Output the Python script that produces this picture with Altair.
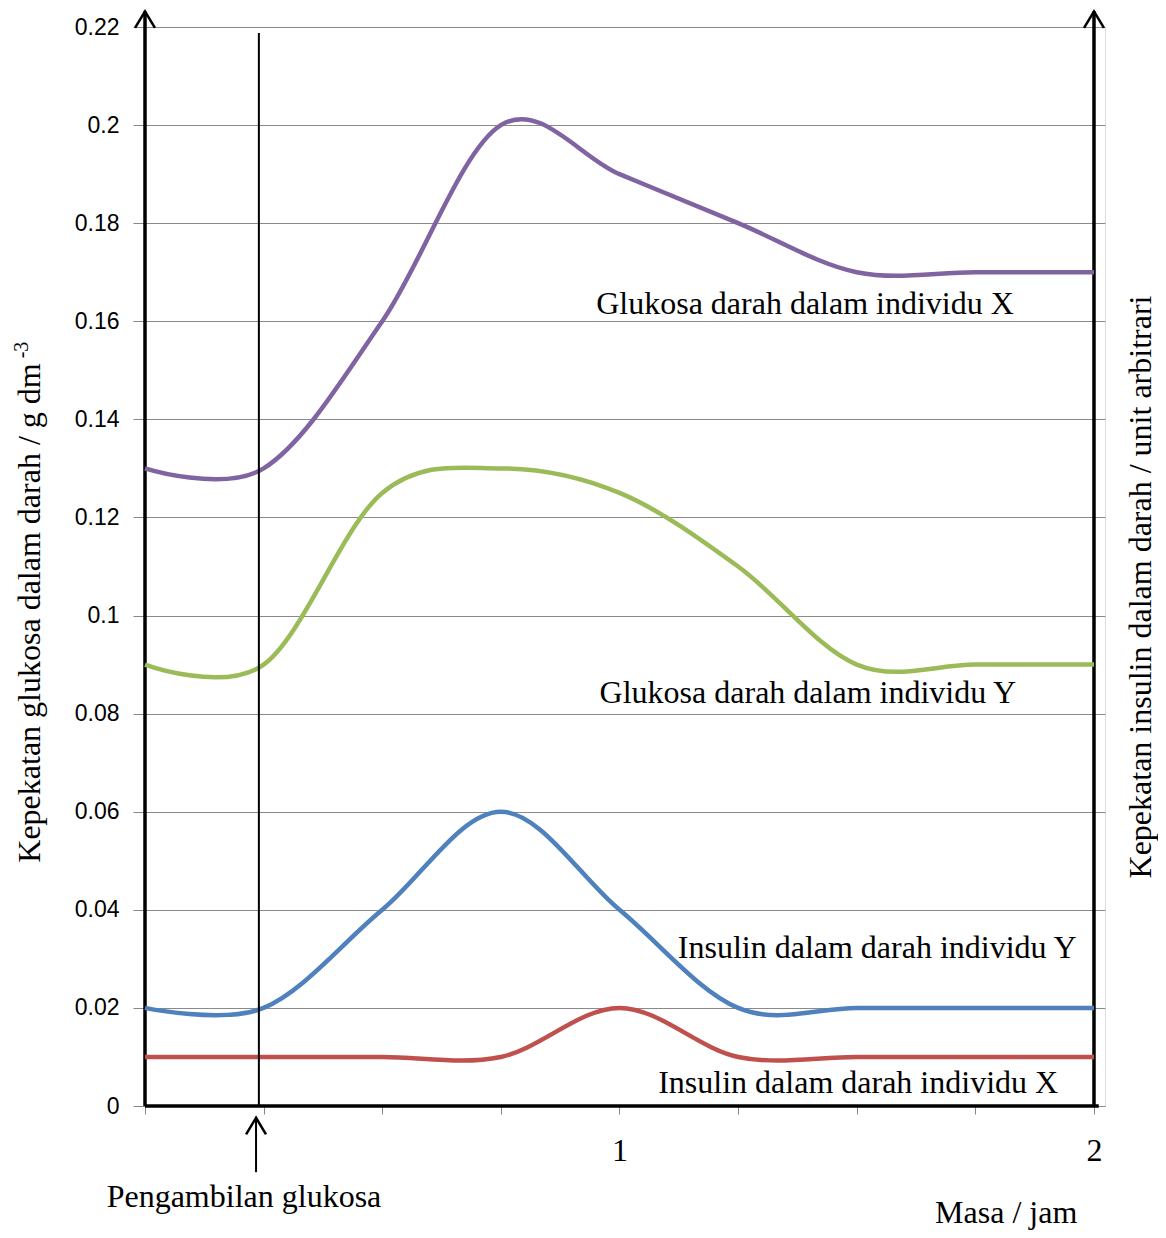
import altair as alt
import pandas as pd

# ---- data ----
times = [0, 0.25, 0.5, 0.75, 1.0, 1.25, 1.5, 1.75, 2.0]
glukosa_x = [0.13, 0.13, 0.16, 0.20, 0.19, 0.18, 0.17, 0.17, 0.17]
glukosa_y = [0.09, 0.09, 0.125, 0.13, 0.125, 0.11, 0.09, 0.09, 0.09]
insulin_y = [0.02, 0.02, 0.04, 0.06, 0.04, 0.02, 0.02, 0.02, 0.02]
insulin_x = [0.01, 0.01, 0.01, 0.01, 0.02, 0.01, 0.01, 0.01, 0.01]

series_names = ["Glukosa X", "Glukosa Y", "Insulin Y", "Insulin X"]
series_colors = ["#8064A2", "#9BBB59", "#4F81BD", "#C0504D"]

y_ticks = [0, 0.02, 0.04, 0.06, 0.08, 0.1, 0.12, 0.14, 0.16, 0.18, 0.2, 0.22]
x_ticks = [0, 0.25, 0.5, 0.75, 1.0, 1.25, 1.5, 1.75, 2.0]

# line labels: text, x (jam), y (g dm-3)
label_texts = ["Glukosa darah dalam individu X", "Glukosa darah dalam individu Y",
               "Insulin dalam darah individu Y", "Insulin dalam darah individu X"]
label_x = [1.391, 1.397, 1.543, 1.503]
label_y = [0.1635, 0.0843, 0.0322, 0.0046]

glucose_intake_time = 0.24
X_MAX = 2.0232
Y_MAX = 0.22
ARROW_TOP = 0.2232

SERIF = "Liberation Serif"
FS = 32

rows = []
for name, vals in zip(series_names, [glukosa_x, glukosa_y, insulin_y, insulin_x]):
    for t, v in zip(times, vals):
        rows.append({"series": name, "t": t, "v": v})
df = pd.DataFrame(rows)

x_scale = alt.Scale(domain=[0, X_MAX], nice=False, zero=False)
y_scale = alt.Scale(domain=[0, Y_MAX], nice=False, zero=False)

x_axis = alt.Axis(values=x_ticks, title=None, domain=False, grid=False,
                  tickColor="#868686", tickSize=8, tickWidth=1,
                  labelExpr="datum.value == 1 ? '1' : (datum.value == 2 ? '2' : '')",
                  labelFont=SERIF, labelFontSize=FS, labelColor="black",
                  labelPadding=21, labelBaseline="top")
y_axis = alt.Axis(values=y_ticks, title=None, domain=False, grid=True,
                  gridColor="#8a8a8a", gridWidth=1, format=".2~f",
                  tickColor="#868686", tickSize=12, tickWidth=1,
                  labelFont="Liberation Sans", labelFontSize=23, labelColor="black",
                  labelPadding=14)


def X(field):
    return alt.X(field, scale=x_scale, axis=x_axis)


def Y(field):
    return alt.Y(field, scale=y_scale, axis=y_axis)


# axis frame lines (left, right vertical, bottom)
frame_df = pd.DataFrame({
    "x": [0, 2.0, 0],
    "x2": [0, 2.0, 2.01],
    "y": [0, 0, 0],
    "y2": [ARROW_TOP, ARROW_TOP, 0],
})
frame = alt.Chart(frame_df).mark_rule(color="black", strokeWidth=3.5).encode(
    x=X("x:Q"), x2="x2:Q", y=Y("y:Q"), y2="y2:Q",
)

lines = alt.Chart(df).mark_line(interpolate="cardinal", strokeWidth=4.5).encode(
    x=X("t:Q"),
    y=Y("v:Q"),
    color=alt.Color("series:N", scale=alt.Scale(domain=series_names, range=series_colors), legend=None),
    detail="series:N",
)

# glucose intake line and arrow
intake_df = pd.DataFrame({"x": [glucose_intake_time, glucose_intake_time - 0.006],
                          "y": [0, -0.0024], "y2": [0.2188, -0.0135]})
intake = alt.Chart(intake_df).mark_rule(color="black", strokeWidth=2).encode(
    x=X("x:Q"), y=Y("y:Q"), y2="y2:Q",
)

# arrow heads
heads_df = pd.DataFrame({"x": [0, 2.0, glucose_intake_time - 0.006],
                         "y": [ARROW_TOP, ARROW_TOP, -0.0024]})
heads = alt.Chart(heads_df).mark_point(
    shape="M-0.6,1L0,0L0.6,1", filled=False, stroke="black", strokeWidth=2.5,
    size=1100, opacity=1,
).encode(x=X("x:Q"), y=Y("y:Q"))

# line labels
labels_df = pd.DataFrame({"text": label_texts, "x": label_x, "y": label_y})
labels = alt.Chart(labels_df).mark_text(font=SERIF, fontSize=FS, color="black",
                                        align="center", baseline="middle").encode(
    x=X("x:Q"), y=Y("y:Q"), text="text:N",
)

# bottom annotations
bottom_df = pd.DataFrame({"text": ["Pengambilan glukosa", "Masa / jam"],
                          "x": [0.2086, 1.815], "y": [-0.01855, -0.0219]})
bottom = alt.Chart(bottom_df).mark_text(font=SERIF, fontSize=FS, color="black",
                                        align="center", baseline="middle").encode(
    x=X("x:Q"), y=Y("y:Q"), text="text:N",
)

# axis titles (rotated)
left_title = alt.Chart(pd.DataFrame({"t": ["Kepekatan glukosa dalam darah / g dm"]})).mark_text(
    font=SERIF, fontSize=FS, color="black", angle=270, align="center", baseline="middle"
).encode(x=alt.value(-115), y=alt.value(586), text="t:N")

left_sup = alt.Chart(pd.DataFrame({"t": ["-3"]})).mark_text(
    font=SERIF, fontSize=20, color="black", angle=270, align="center", baseline="middle"
).encode(x=alt.value(-123), y=alt.value(323), text="t:N")

right_title = alt.Chart(pd.DataFrame({"t": ["Kepekatan insulin dalam darah / unit  arbitrari"]})).mark_text(
    font=SERIF, fontSize=FS, color="black", angle=270, align="center", baseline="middle"
).encode(x=alt.value(996), y=alt.value(560), text="t:N")

chart = alt.layer(
    frame, lines, intake, heads, labels, bottom, left_title, left_sup, right_title
).properties(
    width=960, height=1079,
    autosize=alt.AutoSizeParams(type="none"),
    padding={"left": 137, "top": 19, "right": 53, "bottom": 130},
).configure_view(stroke=None).configure(background="white")

chart.save("out.html", embed_options={"renderer": "svg", "actions": False})
